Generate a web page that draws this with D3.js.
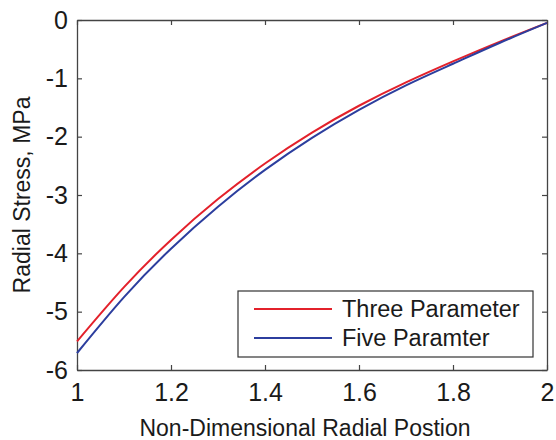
<!DOCTYPE html>
<html>
<head>
<meta charset="utf-8">
<script src="https://cdn.jsdelivr.net/npm/d3@7"></script>
<style>
  html, body { margin: 0; padding: 0; background: #fff; }
  svg { display: block; font-family: "Liberation Sans", Arial, Helvetica, sans-serif; }
</style>
</head>
<body>
<svg id="chart" width="556" height="440"></svg>
<script>
// Radial position (non-dimensional) and radial stress (MPa) for the two fits
const radialPosition = [1.0, 1.1, 1.2, 1.3, 1.4, 1.5, 1.6, 1.7, 1.8, 1.9, 2.0];
const threeParameter = [-5.51, -4.58, -3.77, -3.07, -2.46, -1.93, -1.47, -1.07, -0.71, -0.37, -0.05];
const fiveParameter  = [-5.71, -4.75, -3.92, -3.20, -2.57, -2.02, -1.54, -1.12, -0.75, -0.39, -0.05];

const seriesNames  = ["Three Parameter", "Five Paramter"];
const seriesColors = ["#e3212b", "#2c3e9e"];

const xTicks = [1, 1.2, 1.4, 1.6, 1.8, 2];
const yTicks = [0, -1, -2, -3, -4, -5, -6];

const xTitle = "Non-Dimensional Radial Postion";
const yTitle = "Radial Stress, MPa";

const svg = d3.select("#chart");
const plot = { left: 77, right: 547, top: 20, bottom: 370 };

const x = d3.scaleLinear().domain([1, 2]).range([plot.left, plot.right]);
const y = d3.scaleLinear().domain([-6, 0]).range([plot.bottom, plot.top]);

const axisColor = "#444";
const textColor = "#1a1a1a";
const tickFont = 25;
const titleFont = 23;
const legendFont = 23.5;

// Bottom and left axes with labels, ticks drawn inward
const xAxis = svg.append("g")
  .attr("transform", `translate(0,${plot.bottom})`)
  .call(d3.axisBottom(x).tickValues(xTicks).tickSizeInner(-5).tickSizeOuter(0)
    .tickPadding(13).tickFormat(d3.format("")));
const yAxis = svg.append("g")
  .attr("transform", `translate(${plot.left},0)`)
  .call(d3.axisLeft(y).tickValues(yTicks).tickSizeInner(-5).tickSizeOuter(0)
    .tickPadding(9).tickFormat(d => d === 0 ? "0" : "-" + Math.abs(d)));

// Top and right mirror ticks, no labels
const xAxisTop = svg.append("g")
  .attr("transform", `translate(0,${plot.top})`)
  .call(d3.axisTop(x).tickValues(xTicks).tickSizeInner(-5).tickSizeOuter(0).tickFormat(""));
const yAxisRight = svg.append("g")
  .attr("transform", `translate(${plot.right},0)`)
  .call(d3.axisRight(y).tickValues(yTicks).tickSizeInner(-5).tickSizeOuter(0).tickFormat(""));

[xAxis, yAxis, xAxisTop, yAxisRight].forEach(g => {
  g.select(".domain").attr("stroke", axisColor).attr("stroke-width", 1.3);
  g.selectAll(".tick line").attr("stroke", axisColor).attr("stroke-width", 1.2);
  g.selectAll(".tick text").attr("fill", textColor).attr("font-size", tickFont)
    .attr("font-family", "Liberation Sans, Arial, sans-serif");
});

// Curves
const line = d3.line()
  .x(d => x(d[0]))
  .y(d => y(d[1]))
  .curve(d3.curveNatural);

[threeParameter, fiveParameter].forEach((vals, i) => {
  svg.append("path")
    .datum(radialPosition.map((r, k) => [r, vals[k]]))
    .attr("fill", "none")
    .attr("stroke", seriesColors[i])
    .attr("stroke-width", 2)
    .attr("d", line);
});

// Axis titles
svg.append("text")
  .attr("x", 305)
  .attr("y", 436)
  .attr("text-anchor", "middle")
  .attr("font-size", titleFont)
  .attr("fill", textColor)
  .text(xTitle);

svg.append("text")
  .attr("transform", `translate(30,${(plot.top + plot.bottom) / 2}) rotate(-90)`)
  .attr("text-anchor", "middle")
  .attr("font-size", titleFont)
  .attr("fill", textColor)
  .text(yTitle);

// Legend
const legend = svg.append("g");
legend.append("rect")
  .attr("x", 238).attr("y", 291)
  .attr("width", 295).attr("height", 66)
  .attr("fill", "#fff")
  .attr("stroke", "#333")
  .attr("stroke-width", 1.2);

seriesNames.forEach((name, i) => {
  const ly = 309 + i * 29;
  legend.append("line")
    .attr("x1", 254).attr("x2", 332)
    .attr("y1", ly).attr("y2", ly)
    .attr("stroke", seriesColors[i])
    .attr("stroke-width", 2);
  legend.append("text")
    .attr("x", 342).attr("y", ly)
    .attr("dy", "0.35em")
    .attr("font-size", legendFont)
    .attr("fill", textColor)
    .text(name);
});
</script>
</body>
</html>
